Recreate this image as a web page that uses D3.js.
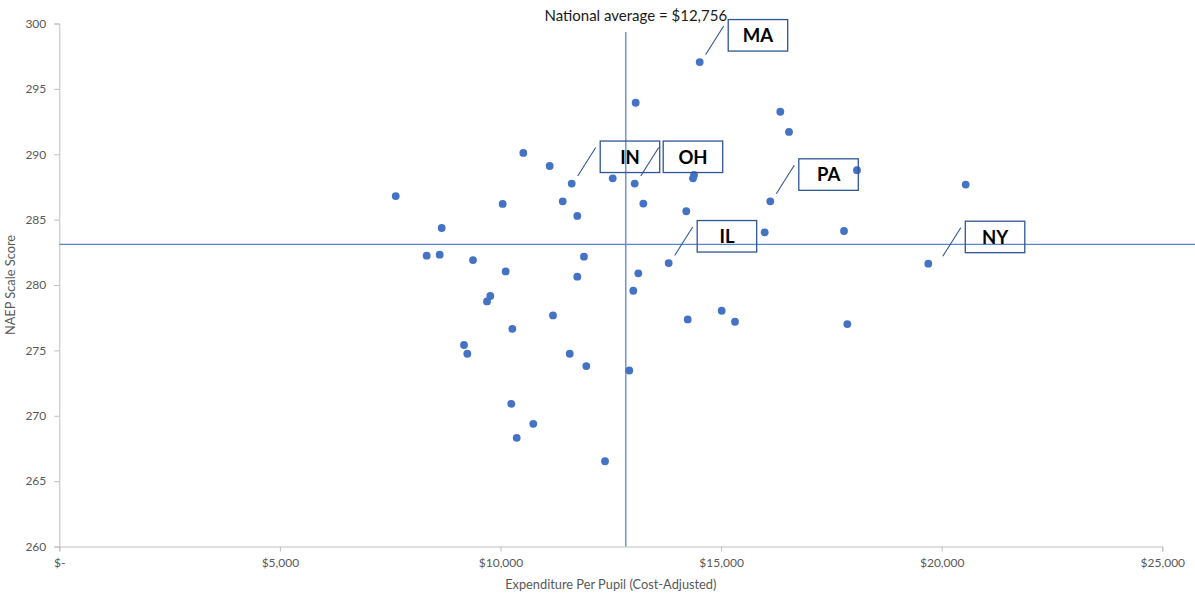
<!DOCTYPE html>
<html>
<head>
<meta charset="utf-8">
<script src="https://cdn.jsdelivr.net/npm/d3@7"></script>
<style>
  body { margin: 0; background: #fff; }
  text { font-family: Lato, "Open Sans", sans-serif; }
</style>
</head>
<body>
<div id="chart"></div>
<script>
// Expenditure per pupil (cost-adjusted) and NAEP scale score, one entry per state
const spending = [7625, 10517, 11115, 11614, 12543, 13042, 10049, 11410, 11741, 8667,
    8327, 8622, 9377, 11892, 10117, 11741, 9769, 9694, 13124, 13010,
    11190, 10268, 9173, 9248, 11569, 11945, 12919, 10245, 10743, 10367,
    12369, 13064, 16342, 16539, 14386, 14363, 18080, 16115, 13237, 14211,
    15988, 17786, 13812, 15013, 14243, 15315, 17861, 14515, 19696, 20544];
const scores = [286.8, 290.1, 289.1, 287.76, 288.16, 287.76, 286.2, 286.4, 285.28, 284.36,
    282.24, 282.32, 281.91, 282.17, 281.04, 280.64, 279.16, 278.74, 280.89, 279.56,
    277.67, 276.65, 275.41, 274.74, 274.74, 273.8, 273.46, 270.91, 269.38, 268.31,
    266.52, 293.94, 293.25, 291.71, 288.42, 288.16, 288.78, 286.4, 286.23, 285.64,
    284.03, 284.13, 281.68, 278.03, 277.37, 277.19, 277.01, 297.05, 281.63, 287.68];
// state code for the highlighted points, "" for the rest
const stateCodes = ["", "", "", "IN", "", "OH", "", "", "", "",
    "", "", "", "", "", "", "", "", "", "",
    "", "", "", "", "", "", "", "", "", "",
    "", "", "", "", "", "", "", "PA", "", "",
    "", "", "IL", "", "", "", "", "MA", "NY", ""];

const xTicks = [0, 5000, 10000, 15000, 20000, 25000];
const yTicks = [260, 265, 270, 275, 280, 285, 290, 295, 300];
const avgSpending = 12840;   // where the reference line sits
const avgScore = 283.1;
const avgLabel = "National average = $12,756";
const xTitle = "Expenditure Per Pupil (Cost-Adjusted)";
const yTitle = "NAEP Scale Score";

const W = 1195, H = 596;
const margin = { top: 23.5, right: 32.7, bottom: 49.5, left: 59.3 };
const width = W - margin.left - margin.right;
const height = H - margin.top - margin.bottom;

const svg = d3.select("#chart").append("svg")
    .attr("width", W)
    .attr("height", H);

const g = svg.append("g")
    .attr("transform", "translate(" + margin.left + "," + margin.top + ")");

let x = d3.scaleLinear().domain([0, 25000]).range([0, width]);
let y = d3.scaleLinear().domain([260, 300]).range([height, 0]);

const axisColor = "#bfbfbf";
const textColor = "#595959";

// X axis
let xAxis = g.append("g")
    .attr("transform", "translate(0," + height + ")")
    .call(d3.axisBottom(x).tickValues(xTicks).tickSize(5).tickPadding(7)
        .tickFormat(d => d === 0 ? "$-" : "$" + d3.format(",")(d)));

// Y axis
let yAxis = g.append("g")
    .call(d3.axisLeft(y).tickValues(yTicks).tickSize(5).tickPadding(8));

[xAxis, yAxis].forEach(a => {
    a.select(".domain").attr("stroke", axisColor).attr("stroke-width", 1);
    a.selectAll(".tick line").attr("stroke", axisColor);
    a.selectAll(".tick text").attr("fill", textColor).style("font-size", "12px");
});

// axis titles
g.append("text")
    .attr("x", width / 2)
    .attr("y", height + 42)
    .attr("text-anchor", "middle")
    .attr("fill", textColor)
    .style("font-size", "12.8px")
    .text(xTitle);

g.append("text")
    .attr("transform", "translate(" + (-44) + "," + (height / 2) + ") rotate(-90)")
    .attr("text-anchor", "middle")
    .attr("fill", textColor)
    .style("font-size", "12.8px")
    .text(yTitle);

// national average lines
const refColor = "#5b84cf";
g.append("line")
    .attr("x1", x(0)).attr("x2", W - margin.left)
    .attr("y1", y(avgScore)).attr("y2", y(avgScore))
    .attr("stroke", refColor).attr("stroke-width", 1.3);

g.append("line")
    .attr("x1", x(avgSpending)).attr("x2", x(avgSpending))
    .attr("y1", 8.5).attr("y2", height)
    .attr("stroke", refColor).attr("stroke-width", 1.3);

g.append("text")
    .attr("x", x(avgSpending) + 10)
    .attr("y", -3)
    .attr("text-anchor", "middle")
    .attr("fill", "#1a1a1a")
    .style("font-size", "15px")
    .text(avgLabel);

// dots
let points = spending.map((d, i) => ({ spend: d, score: scores[i], code: stateCodes[i] }));

g.append("g").selectAll("circle")
    .data(points)
    .enter().append("circle")
    .attr("cx", d => x(d.spend))
    .attr("cy", d => y(d.score))
    .attr("r", 3.9)
    .attr("fill", "#4472c4");

// callouts for the named states
const boxColor = "#2f5597";
let extraShift = { NY: 8.5 };   // NY callout sits a bit further right
let callouts = g.append("g").selectAll("g")
    .data(points.filter(d => d.code !== ""))
    .enter().append("g")
    .attr("transform", d => "translate(" + (x(d.spend) + (extraShift[d.code] || 0)) + "," + y(d.score) + ")");

callouts.append("line")
    .attr("x1", 6).attr("y1", -7.5)
    .attr("x2", 24).attr("y2", -36)
    .attr("stroke", boxColor).attr("stroke-width", 1.1);

callouts.append("rect")
    .attr("x", 28.5).attr("y", -42.5)
    .attr("width", 59.5).attr("height", 31.5)
    .attr("fill", "none")
    .attr("stroke", boxColor).attr("stroke-width", 1.3);

callouts.append("text")
    .attr("x", 58.3).attr("y", -20)
    .attr("text-anchor", "middle")
    .attr("fill", "#000")
    .style("font-size", "18.5px")
    .style("font-weight", "bold")
    .text(d => d.code);
</script>
</body>
</html>
